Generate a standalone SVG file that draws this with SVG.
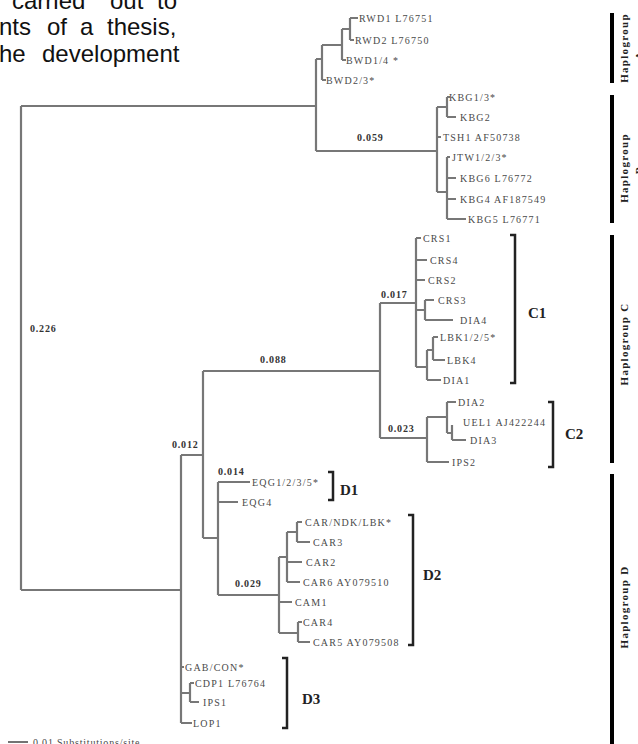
<svg xmlns="http://www.w3.org/2000/svg" width="638" height="744" viewBox="0 0 638 744">
<style>
.para{font-family:"Liberation Sans",Arial,sans-serif;font-size:24px;fill:#111}
.t{font-family:"Liberation Serif","Times New Roman",serif;font-size:10px;letter-spacing:1.2px;fill:#4a4a4a}
.b{font-family:"Liberation Serif","Times New Roman",serif;font-size:10px;font-weight:bold;letter-spacing:0.8px;fill:#333}
.cl{font-family:"Liberation Serif","Times New Roman",serif;font-size:15px;font-weight:bold;fill:#222}
.hg{font-family:"Liberation Serif","Times New Roman",serif;font-size:11px;font-weight:bold;letter-spacing:1.3px;fill:#222}
.br path{fill:none;stroke:#777;stroke-width:2.2}
.bk{fill:none;stroke:#222;stroke-width:2.5}
.bar{stroke:#000;stroke-width:4}
</style>
<rect width="638" height="744" fill="#fff"/>
<g id="paragraph">
<text class="para" y="9"><tspan x="12">carried</tspan><tspan x="110">out</tspan><tspan x="157">to</tspan></text>
<text class="para" y="35"><tspan x="-1">nts</tspan><tspan x="47">of</tspan><tspan x="80">a</tspan><tspan x="107">thesis,</tspan></text>
<text class="para" y="62"><tspan x="-1">he</tspan><tspan x="42">development</tspan></text>
</g>
<g id="connectors" class="br">
<path d="M21,106V590M21,106H316M21,590H181"/>
<path d="M316,59V151M316,59H322M322,45V80M322,80H326M322,45H342M342,29V60M342,60H346M342,29H350M350,18V40M350,18H358M350,40H354"/>
<path d="M316,151H437M437,107V192M437,107H447M447,97V117M447,97H450M447,117H456M437,137H441M437,192H447M447,157V219M447,157H450M447,178H456M447,199H456M447,219H466"/>
<path d="M181,455V723M181,455H203M203,371V538M203,371H380M380,303V438M380,303H416M380,438H427"/>
<path d="M416,238V367M416,238H421M416,260H427M416,280H425M416,310H425M425,300V320M425,300H434M425,320H453M416,367H427M427,350V380M427,350H433M433,337V360M433,337H438M433,360H445M427,380H441"/>
<path d="M427,417V462M427,417H447M447,402V433M447,402H456M447,433H452M452,425V440M452,440H466M427,462H449"/>
<path d="M203,538H218M218,482V595M218,482H250M218,502H238M218,595H279M279,557V633M279,557H287M287,532V582M287,532H297M297,522V542M297,522H302M297,542H310M287,562H302M287,582H300M279,602H292M279,633H298M298,622V642M298,622H302M298,642H310"/>
<path d="M181,667H184M181,693H190M190,683V702M190,683H194M190,702H199M181,723H192"/>
</g>
<g id="branch-lengths">
<text class="b" x="30" y="332">0.226</text>
<text class="b" x="357" y="141">0.059</text>
<text class="b" x="381" y="298">0.017</text>
<text class="b" x="260" y="363">0.088</text>
<text class="b" x="388" y="432">0.023</text>
<text class="b" x="172" y="448">0.012</text>
<text class="b" x="218" y="475">0.014</text>
<text class="b" x="235" y="587">0.029</text>
</g>
<g id="leaves">
<g id="RWD1"><text class="t" x="359" y="21.5">RWD1 L76751</text></g>
<g id="RWD2"><text class="t" x="355" y="43.5">RWD2 L76750</text></g>
<g id="BWD1"><text class="t" x="346" y="63.5">BWD1/4 *</text></g>
<g id="BWD2"><text class="t" x="326" y="83.5">BWD2/3*</text></g>
<g id="KBG1"><text class="t" x="449" y="100.5">KBG1/3*</text></g>
<g id="KBG2"><text class="t" x="460" y="120.5">KBG2</text></g>
<g id="TSH1"><text class="t" x="443" y="140.5">TSH1 AF50738</text></g>
<g id="JTW1"><text class="t" x="452" y="160.5">JTW1/2/3*</text></g>
<g id="KBG6"><text class="t" x="460" y="181.5">KBG6 L76772</text></g>
<g id="KBG4"><text class="t" x="460" y="202.5">KBG4 AF187549</text></g>
<g id="KBG5"><text class="t" x="468" y="222.5">KBG5 L76771</text></g>
<g id="CRS1"><text class="t" x="423" y="241.5">CRS1</text></g>
<g id="CRS4"><text class="t" x="430" y="263.5">CRS4</text></g>
<g id="CRS2"><text class="t" x="428" y="283.5">CRS2</text></g>
<g id="CRS3"><text class="t" x="438" y="303.5">CRS3</text></g>
<g id="DIA4"><text class="t" x="460" y="323.5">DIA4</text></g>
<g id="LBK1"><text class="t" x="440" y="340.5">LBK1/2/5*</text></g>
<g id="LBK4"><text class="t" x="447" y="363.5">LBK4</text></g>
<g id="DIA1"><text class="t" x="443" y="383.5">DIA1</text></g>
<g id="DIA2"><text class="t" x="458" y="405.5">DIA2</text></g>
<g id="UEL1"><text class="t" x="463" y="425.5">UEL1 AJ422244</text></g>
<g id="DIA3"><text class="t" x="470" y="443.5">DIA3</text></g>
<g id="IPS2"><text class="t" x="452" y="465.5">IPS2</text></g>
<g id="EQG1"><text class="t" x="252" y="485.5">EQG1/2/3/5*</text></g>
<g id="EQG4"><text class="t" x="242" y="505.5">EQG4</text></g>
<g id="CARNDK"><text class="t" x="305" y="525.5">CAR/NDK/LBK*</text></g>
<g id="CAR3"><text class="t" x="313" y="545.5">CAR3</text></g>
<g id="CAR2"><text class="t" x="306" y="565.5">CAR2</text></g>
<g id="CAR6"><text class="t" x="303" y="585.5">CAR6 AY079510</text></g>
<g id="CAM1"><text class="t" x="295" y="605.5">CAM1</text></g>
<g id="CAR4"><text class="t" x="303" y="625.5">CAR4</text></g>
<g id="CAR5"><text class="t" x="313" y="645.5">CAR5 AY079508</text></g>
<g id="GABCON"><text class="t" x="185" y="670.5">GAB/CON*</text></g>
<g id="CDP1"><text class="t" x="195" y="686.5">CDP1 L76764</text></g>
<g id="IPS1"><text class="t" x="203" y="705.5">IPS1</text></g>
<g id="LOP1"><text class="t" x="193" y="726.5">LOP1</text></g>
</g>
<g id="clades">
<g id="C1"><path class="bk" d="M510,235H515V383H510"/><text class="cl" x="528" y="318">C1</text></g>
<g id="C2"><path class="bk" d="M548,402H553V467H548"/><text class="cl" x="565" y="439">C2</text></g>
<g id="D1"><path class="bk" d="M328,472H333V500H328"/><text class="cl" x="340" y="495">D1</text></g>
<g id="D2"><path class="bk" d="M408,515H413V645H408"/><text class="cl" x="423" y="580">D2</text></g>
<g id="D3"><path class="bk" d="M282,658H287V728H282"/><text class="cl" x="302" y="704">D3</text></g>
</g>
<g id="haplogroups">
<g id="hgA"><line class="bar" x1="612" y1="13" x2="612" y2="83"/><text class="hg" text-anchor="middle" transform="translate(628,48) rotate(-90)">Haplogroup</text><text class="hg" text-anchor="middle" transform="translate(643,55) rotate(-90)">A</text></g>
<g id="hgB"><line class="bar" x1="612" y1="95" x2="612" y2="223"/><text class="hg" text-anchor="middle" transform="translate(628,168) rotate(-90)">Haplogroup</text><text class="hg" text-anchor="middle" transform="translate(643,170) rotate(-90)">B</text></g>
<g id="hgC"><line class="bar" x1="612" y1="235" x2="612" y2="463"/><text class="hg" text-anchor="middle" transform="translate(628,344) rotate(-90)">Haplogroup C</text></g>
<g id="hgD"><line class="bar" x1="612" y1="474" x2="612" y2="744"/><text class="hg" text-anchor="middle" transform="translate(628,607) rotate(-90)">Haplogroup D</text></g>
</g>
<g id="scale">
<line x1="8" y1="742" x2="28" y2="742" stroke="#444" stroke-width="1.5"/>
<text class="t" x="33" y="746" style="letter-spacing:0.8px">0.01 Substitutions/site</text>
</g>
</svg>
